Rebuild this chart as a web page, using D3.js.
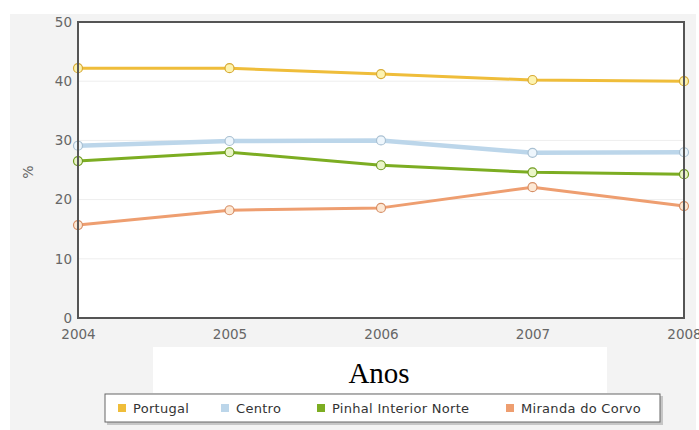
<!DOCTYPE html>
<html><head><meta charset="utf-8">
<script src="https://cdn.jsdelivr.net/npm/d3@7"></script>
<style>body{margin:0;background:#fff}svg{display:block}</style>
</head><body>
<svg id="c" width="699" height="430"></svg>
<script>
const years = ["2004","2005","2006","2007","2008"];
const seriesNames = ["Portugal","Centro","Pinhal Interior Norte","Miranda do Corvo"];
const portugal = [42.2, 42.2, 41.2, 40.2, 40.0];
const centro = [29.1, 29.9, 30.0, 27.9, 28.0];
const pinhal = [26.5, 28.0, 25.8, 24.6, 24.3];
const miranda = [15.7, 18.2, 18.6, 22.1, 18.9];
const yTicks = [0, 10, 20, 30, 40, 50];
const colors = ["#efbd3a", "#bcd6ea", "#7cad22", "#ee9e70"];
const fills = ["#fdf3b0", "#eef6fc", "#eaf5c8", "#fde8d4"];
const widths = [3, 4.5, 3, 3];

const data = [portugal, centro, pinhal, miranda];
const svg = d3.select("#c");
const FONT = "'DejaVu Sans', Verdana, sans-serif";
svg.append("rect").attr("x",10).attr("y",14).attr("width",686).attr("height",416).attr("fill","#f3f3f3");

const L=78, R=684, T=22, B=318;
const x = d3.scalePoint().domain(years).range([L,R]);
const y = d3.scaleLinear().domain([0,50]).range([B,T]);

svg.append("rect").attr("x",L).attr("y",T).attr("width",R-L).attr("height",B-T).attr("fill","#fff");
svg.append("g").selectAll("line").data(yTicks.slice(1,-1)).join("line")
  .attr("x1",L).attr("x2",R).attr("y1",d=>y(d)).attr("y2",d=>y(d))
  .attr("stroke","#eeeeee").attr("stroke-width",1);

svg.append("rect").attr("x",153).attr("y",347).attr("width",454).attr("height",46).attr("fill","#fff");

const line = d3.line().x((d,i)=>x(years[i])).y(d=>y(d));
data.forEach((s,k)=>{
  svg.append("path").datum(s).attr("d",line).attr("fill","none")
    .attr("stroke",colors[k]).attr("stroke-width",widths[k]).attr("stroke-linejoin","round");
});
data.forEach((s,k)=>{
  svg.append("g").selectAll("circle").data(s).join("circle")
    .attr("cx",(d,i)=>x(years[i])).attr("cy",d=>y(d)).attr("r",4.5)
    .attr("fill",fills[k]).attr("stroke",d3.color(colors[k]).darker(0.3)).attr("stroke-width",1.2);
});

svg.append("rect").attr("x",L).attr("y",T).attr("width",R-L).attr("height",B-T)
  .attr("fill","none").attr("stroke","#555").attr("stroke-width",2);

const ya = svg.append("g").attr("transform",`translate(${L},0)`)
  .call(d3.axisLeft(y).tickValues(yTicks).tickSize(0).tickPadding(6));
ya.select(".domain").remove();
ya.selectAll("text").attr("font-family",FONT).attr("font-size",13.5).attr("fill","#666");

const xa = svg.append("g").attr("transform",`translate(0,${B})`)
  .call(d3.axisBottom(x).tickSize(0).tickPadding(11));
xa.select(".domain").remove();
xa.selectAll("text").attr("font-family",FONT).attr("font-size",13.5).attr("fill","#666");

svg.append("text").attr("transform","translate(33,172) rotate(-90)").attr("text-anchor","middle")
  .attr("font-family",FONT).attr("font-size",14).attr("fill","#666").text("%");

svg.append("text").attr("x",379).attr("y",383).attr("text-anchor","middle")
  .attr("font-family","'Liberation Serif','Times New Roman',serif").attr("font-size",29).attr("fill","#000").text("Anos");

// legend
svg.append("rect").attr("x",107).attr("y",396).attr("width",556).attr("height",29).attr("fill","#999").attr("opacity",0.5);
svg.append("rect").attr("x",105).attr("y",394).attr("width",555).attr("height",28).attr("fill","#fff").attr("stroke","#666").attr("stroke-width",1);
const lx = [118, 221, 317, 506];
const lg = svg.append("g").selectAll("g").data(seriesNames).join("g")
  .attr("transform",(d,i)=>`translate(${lx[i]},408)`);
lg.append("rect").attr("x",0).attr("y",-4).attr("width",8).attr("height",8).attr("fill",(d,i)=>colors[i]);
lg.append("text").attr("x",15).attr("y",5).attr("font-family",FONT).attr("letter-spacing",0.3)
  .attr("font-size",13).attr("fill","#333").text(d=>d);
</script>
</body></html>
